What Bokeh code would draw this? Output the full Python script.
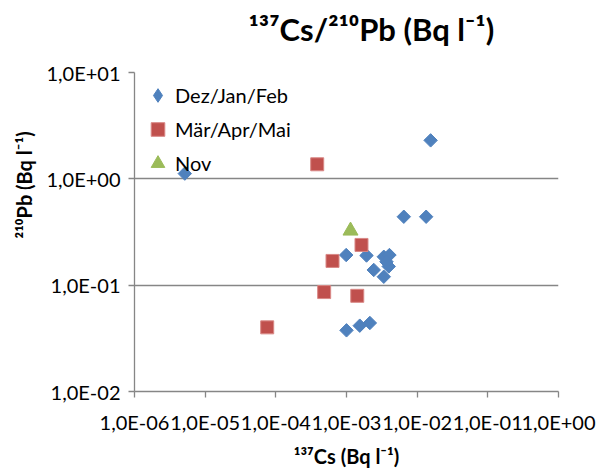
import numpy as np
from bokeh.plotting import figure
from bokeh.models import Range1d, FixedTicker, Title, Legend, LegendItem
from bokeh.embed import file_html
from bokeh.resources import INLINE

# ---- data ----
djf_cs = [5.15e-6, 1.55e-2, 6.47e-3, 1.34e-2, 9.9e-4, 1.92e-3, 3.37e-3, 4.05e-3,
          2.43e-3, 3.96e-3, 3.37e-3, 3.68e-3, 1.0e-3, 1.54e-3, 2.14e-3]
djf_pb = [1.12, 2.30, 0.440, 0.440, 0.192, 0.190, 0.185, 0.192,
          0.139, 0.150, 0.120, 0.166, 0.0376, 0.0416, 0.0441]
mam_cs = [3.85e-4, 1.63e-3, 6.34e-4, 4.83e-4, 1.42e-3, 7.55e-5]
mam_pb = [1.37, 0.239, 0.169, 0.0861, 0.0794, 0.0401]
nov_cs = [1.14e-3]
nov_pb = [0.325]

x_ticks = [1e-6, 1e-5, 1e-4, 1e-3, 1e-2, 1e-1, 1e0]
x_tick_labels = ["1,0E-06", "1,0E-05", "1,0E-04", "1,0E-03", "1,0E-02", "1,0E-01", "1,0E+00"]
y_ticks = [1e-2, 1e-1, 1e0, 1e1]
y_tick_labels = ["1,0E-02", "1,0E-01", "1,0E+00", "1,0E+01"]

series_names = ["Dez/Jan/Feb", "Mär/Apr/Mai", "Nov"]
colors = ["#4F81BD", "#C0504D", "#9BBB59"]

FONT = "Lato"
GRAY = "#868686"

p = figure(width=596, height=470, x_axis_type="log", y_axis_type="log",
           x_range=Range1d(1e-6, 1e0), y_range=Range1d(1e-2, 1e1),
           output_backend="svg", toolbar_location=None,
           min_border_left=134, min_border_right=38,
           min_border_top=72, min_border_bottom=78)

p.title.text = "¹³⁷Cs/²¹⁰Pb (Bq l⁻¹)"
p.title.align = "left"
p.title.offset = 114
p.title.standoff = 0
p.title.vertical_align = "bottom"
p.title.padding = (0, 0, 0, 25)
p.title.text_font = FONT
p.title.text_font_size = "31px"
p.title.text_font_style = "bold"
p.title.text_color = "black"

p.outline_line_color = None
p.background_fill_color = "white"
p.border_fill_color = "white"

p.xgrid.grid_line_color = None
p.ygrid.grid_line_color = GRAY
p.ygrid.grid_line_width = 1.3

for ax in (p.xaxis[0], p.yaxis[0]):
    ax.axis_line_color = GRAY
    ax.axis_line_width = 1.3
    ax.major_tick_line_color = GRAY
    ax.major_tick_line_width = 1.3
    ax.major_tick_out = 6
    ax.major_tick_in = 0
    ax.minor_tick_line_color = None
    ax.major_label_text_font = FONT
    ax.major_label_text_font_size = "20px"
    ax.major_label_text_color = "black"

p.xaxis.ticker = FixedTicker(ticks=x_ticks)
p.yaxis.ticker = FixedTicker(ticks=y_ticks)
p.xaxis.major_label_overrides = {t: l for t, l in zip(x_ticks, x_tick_labels)}
p.yaxis.major_label_overrides = {t: l for t, l in zip(y_ticks, y_tick_labels)}
p.xaxis.major_label_standoff = 12
p.yaxis.major_label_standoff = 8

p.xaxis.axis_label = "¹³⁷Cs (Bq l⁻¹)"
p.xaxis.axis_label_text_font = FONT
p.xaxis.axis_label_text_font_size = "20px"
p.xaxis.axis_label_text_font_style = "bold"
p.xaxis.axis_label_text_color = "black"
p.xaxis.axis_label_standoff = 7

# y axis title, placed higher than the axis centre as in the reference
ytitle = Title(text="²¹⁰Pb  (Bq l⁻¹)", align="right", offset=54, standoff=16,
               text_font=FONT, text_font_size="20px", text_font_style="bold",
               text_color="black")
p.add_layout(ytitle, "left")

# legend key for the diamonds (legend keys ignore the glyph angle), hidden
r_djf_key = p.scatter(djf_cs, djf_pb, marker="diamond", size=13,
                      fill_color=colors[0], line_color=colors[0], visible=False)
r_djf = p.scatter(djf_cs, djf_pb, marker="square", angle=np.pi / 4, size=9.5,
                  fill_color=colors[0], line_color=colors[0])
r_mam = p.scatter(mam_cs, mam_pb, marker="square", size=13,
                  fill_color=colors[1], line_color="#D98886", line_width=1)
r_nov = p.scatter(nov_cs, nov_pb, marker="triangle", size=15,
                  fill_color=colors[2], line_color=colors[2])

lg = Legend(items=[LegendItem(label=series_names[0], renderers=[r_djf_key]),
                   LegendItem(label=series_names[1], renderers=[r_mam]),
                   LegendItem(label=series_names[2], renderers=[r_nov])])
lg.location = "top_left"
lg.margin = 6
lg.padding = 6
lg.border_line_color = None
lg.background_fill_alpha = 0
lg.glyph_width = 35
lg.glyph_height = 34
lg.label_height = 34
lg.spacing = 0
lg.label_standoff = -11
lg.label_text_font = FONT
lg.label_text_font_size = "20px"
lg.label_text_color = "black"
p.add_layout(lg)

open("out.html", "w").write(file_html(p, INLINE))
